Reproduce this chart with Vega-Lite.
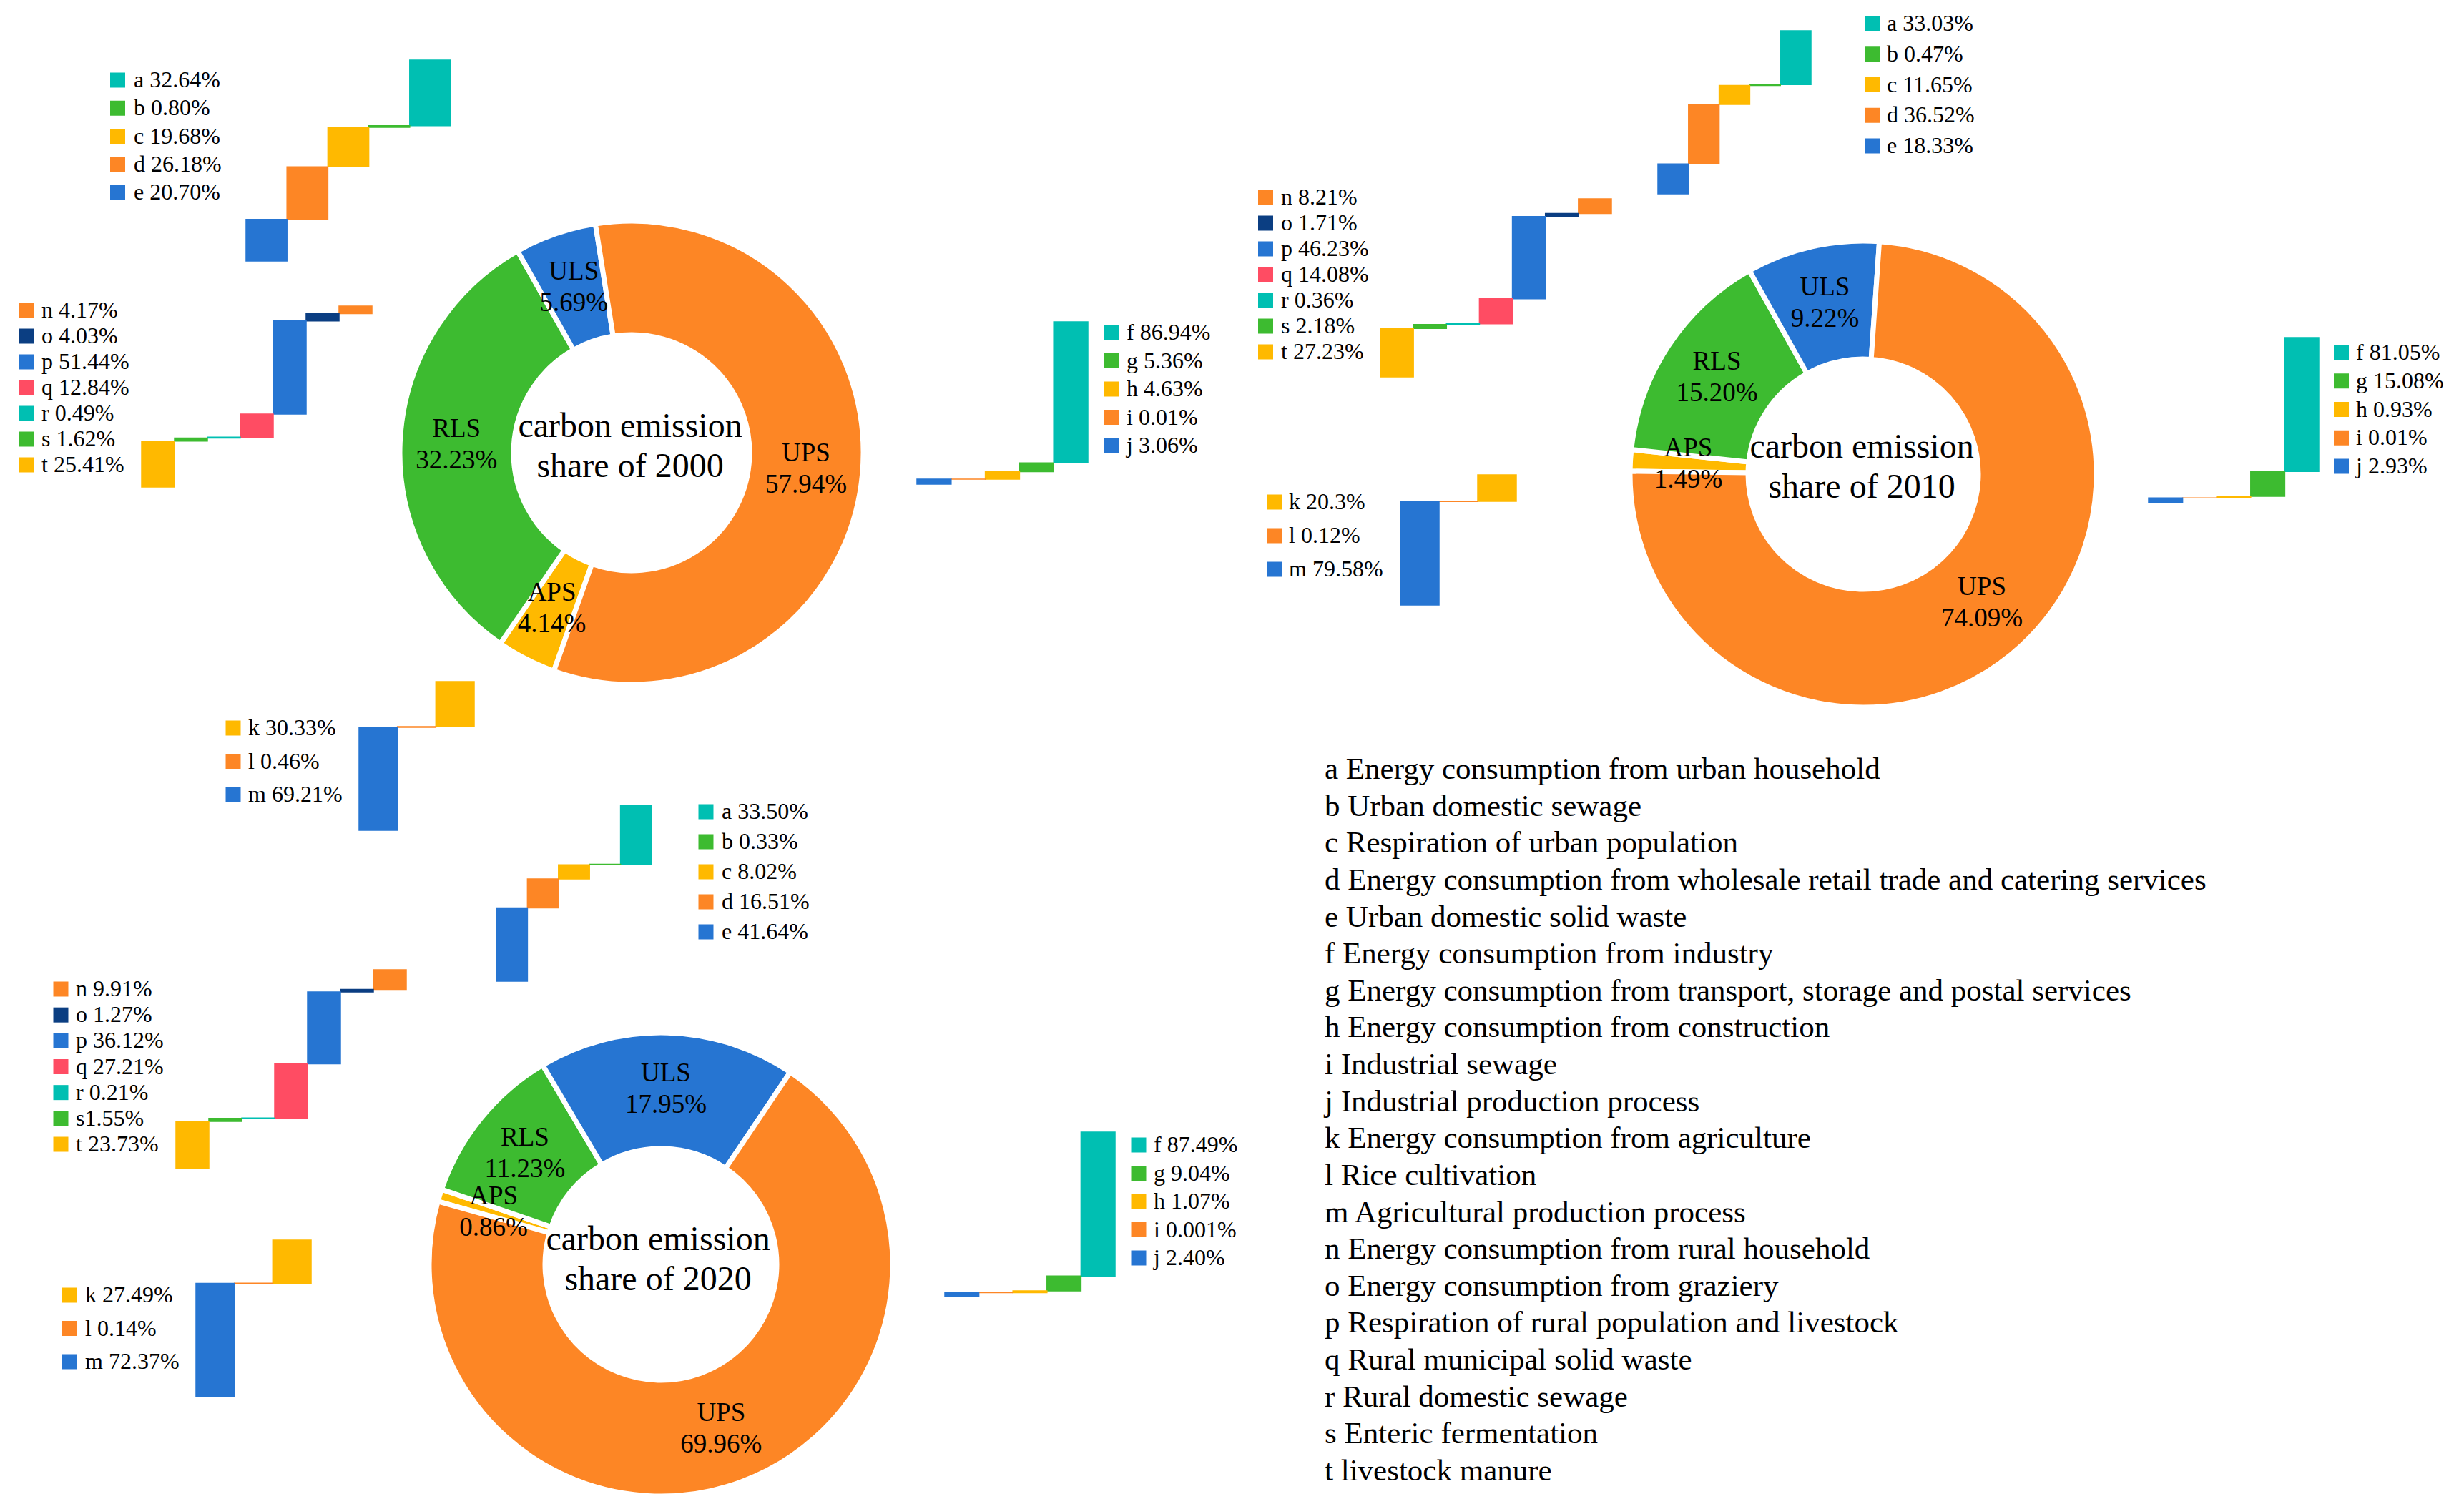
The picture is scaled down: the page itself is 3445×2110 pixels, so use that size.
{
"$schema": "https://vega.github.io/schema/vega-lite/v6.json",
"width": 3445, "height": 2110, "autosize": "none", "padding": 0, "background": "white",
"config": {"view": {"stroke": null}, "font": "Liberation Serif"},
"datasets": {
"slices": [
{"year":2000,"sector":"APS","share":0.0414},{"year":2000,"sector":"RLS","share":0.3223},{"year":2000,"sector":"ULS","share":0.0569},{"year":2000,"sector":"UPS","share":0.5794},
{"year":2010,"sector":"APS","share":0.0149},{"year":2010,"sector":"RLS","share":0.1520},{"year":2010,"sector":"ULS","share":0.0922},{"year":2010,"sector":"UPS","share":0.7409},
{"year":2020,"sector":"APS","share":0.0086},{"year":2020,"sector":"RLS","share":0.1123},{"year":2020,"sector":"ULS","share":0.1795},{"year":2020,"sector":"UPS","share":0.6996}
],
"items": [
{"year":2000,"group":"ULS","letter":"a","share":32.64,"label":"a 32.64%"},
{"year":2000,"group":"ULS","letter":"b","share":0.80,"label":"b 0.80%"},
{"year":2000,"group":"ULS","letter":"c","share":19.68,"label":"c 19.68%"},
{"year":2000,"group":"ULS","letter":"d","share":26.18,"label":"d 26.18%"},
{"year":2000,"group":"ULS","letter":"e","share":20.70,"label":"e 20.70%"},
{"year":2000,"group":"UPS","letter":"f","share":86.94,"label":"f 86.94%"},
{"year":2000,"group":"UPS","letter":"g","share":5.36,"label":"g 5.36%"},
{"year":2000,"group":"UPS","letter":"h","share":4.63,"label":"h 4.63%"},
{"year":2000,"group":"UPS","letter":"i","share":0.01,"label":"i 0.01%"},
{"year":2000,"group":"UPS","letter":"j","share":3.06,"label":"j 3.06%"},
{"year":2000,"group":"APS","letter":"k","share":30.33,"label":"k 30.33%"},
{"year":2000,"group":"APS","letter":"l","share":0.46,"label":"l 0.46%"},
{"year":2000,"group":"APS","letter":"m","share":69.21,"label":"m 69.21%"},
{"year":2000,"group":"RLS","letter":"n","share":4.17,"label":"n 4.17%"},
{"year":2000,"group":"RLS","letter":"o","share":4.03,"label":"o 4.03%"},
{"year":2000,"group":"RLS","letter":"p","share":51.44,"label":"p 51.44%"},
{"year":2000,"group":"RLS","letter":"q","share":12.84,"label":"q 12.84%"},
{"year":2000,"group":"RLS","letter":"r","share":0.49,"label":"r 0.49%"},
{"year":2000,"group":"RLS","letter":"s","share":1.62,"label":"s 1.62%"},
{"year":2000,"group":"RLS","letter":"t","share":25.41,"label":"t 25.41%"},
{"year":2010,"group":"ULS","letter":"a","share":33.03,"label":"a 33.03%"},
{"year":2010,"group":"ULS","letter":"b","share":0.47,"label":"b 0.47%"},
{"year":2010,"group":"ULS","letter":"c","share":11.65,"label":"c 11.65%"},
{"year":2010,"group":"ULS","letter":"d","share":36.52,"label":"d 36.52%"},
{"year":2010,"group":"ULS","letter":"e","share":18.33,"label":"e 18.33%"},
{"year":2010,"group":"UPS","letter":"f","share":81.05,"label":"f 81.05%"},
{"year":2010,"group":"UPS","letter":"g","share":15.08,"label":"g 15.08%"},
{"year":2010,"group":"UPS","letter":"h","share":0.93,"label":"h 0.93%"},
{"year":2010,"group":"UPS","letter":"i","share":0.01,"label":"i 0.01%"},
{"year":2010,"group":"UPS","letter":"j","share":2.93,"label":"j 2.93%"},
{"year":2010,"group":"APS","letter":"k","share":20.3,"label":"k 20.3%"},
{"year":2010,"group":"APS","letter":"l","share":0.12,"label":"l 0.12%"},
{"year":2010,"group":"APS","letter":"m","share":79.58,"label":"m 79.58%"},
{"year":2010,"group":"RLS","letter":"n","share":8.21,"label":"n 8.21%"},
{"year":2010,"group":"RLS","letter":"o","share":1.71,"label":"o 1.71%"},
{"year":2010,"group":"RLS","letter":"p","share":46.23,"label":"p 46.23%"},
{"year":2010,"group":"RLS","letter":"q","share":14.08,"label":"q 14.08%"},
{"year":2010,"group":"RLS","letter":"r","share":0.36,"label":"r 0.36%"},
{"year":2010,"group":"RLS","letter":"s","share":2.18,"label":"s 2.18%"},
{"year":2010,"group":"RLS","letter":"t","share":27.23,"label":"t 27.23%"},
{"year":2020,"group":"ULS","letter":"a","share":33.50,"label":"a 33.50%"},
{"year":2020,"group":"ULS","letter":"b","share":0.33,"label":"b 0.33%"},
{"year":2020,"group":"ULS","letter":"c","share":8.02,"label":"c 8.02%"},
{"year":2020,"group":"ULS","letter":"d","share":16.51,"label":"d 16.51%"},
{"year":2020,"group":"ULS","letter":"e","share":41.64,"label":"e 41.64%"},
{"year":2020,"group":"UPS","letter":"f","share":87.49,"label":"f 87.49%"},
{"year":2020,"group":"UPS","letter":"g","share":9.04,"label":"g 9.04%"},
{"year":2020,"group":"UPS","letter":"h","share":1.07,"label":"h 1.07%"},
{"year":2020,"group":"UPS","letter":"i","share":0.001,"label":"i 0.001%"},
{"year":2020,"group":"UPS","letter":"j","share":2.40,"label":"j 2.40%"},
{"year":2020,"group":"APS","letter":"k","share":27.49,"label":"k 27.49%"},
{"year":2020,"group":"APS","letter":"l","share":0.14,"label":"l 0.14%"},
{"year":2020,"group":"APS","letter":"m","share":72.37,"label":"m 72.37%"},
{"year":2020,"group":"RLS","letter":"n","share":9.91,"label":"n 9.91%"},
{"year":2020,"group":"RLS","letter":"o","share":1.27,"label":"o 1.27%"},
{"year":2020,"group":"RLS","letter":"p","share":36.12,"label":"p 36.12%"},
{"year":2020,"group":"RLS","letter":"q","share":27.21,"label":"q 27.21%"},
{"year":2020,"group":"RLS","letter":"r","share":0.21,"label":"r 0.21%"},
{"year":2020,"group":"RLS","letter":"s","share":1.55,"label":"s1.55%"},
{"year":2020,"group":"RLS","letter":"t","share":23.73,"label":"t 23.73%"}
],
"descriptions": [
{"letter":"a","text":"a Energy consumption from urban household"},
{"letter":"b","text":"b Urban domestic sewage"},
{"letter":"c","text":"c Respiration of urban population"},
{"letter":"d","text":"d Energy consumption from wholesale retail trade and catering services"},
{"letter":"e","text":"e Urban domestic solid waste"},
{"letter":"f","text":"f Energy consumption from industry"},
{"letter":"g","text":"g Energy consumption from transport, storage and postal services"},
{"letter":"h","text":"h Energy consumption from construction"},
{"letter":"i","text":"i Industrial sewage"},
{"letter":"j","text":"j Industrial production process"},
{"letter":"k","text":"k Energy consumption from agriculture"},
{"letter":"l","text":"l Rice cultivation"},
{"letter":"m","text":"m Agricultural production process"},
{"letter":"n","text":"n Energy consumption from rural household"},
{"letter":"o","text":"o Energy consumption from graziery"},
{"letter":"p","text":"p Respiration of rural population and livestock"},
{"letter":"q","text":"q Rural municipal solid waste"},
{"letter":"r","text":"r Rural domestic sewage"},
{"letter":"s","text":"s Enteric fermentation"},
{"letter":"t","text":"t livestock manure"}
]
},
"layer": [
{"data":{"name":"slices"},"transform":[{"filter":"datum.year == 2000"}],"layer":[
 {"mark":{"type":"arc","x":883,"y":633,"radius":324,"radius2":165,"stroke":"white","strokeWidth":7},"encoding":{"theta":{"field":"share","type":"quantitative","stack":true,"scale":{"range":[3.48368,9.76686]}},"order":{"field":"sector","type":"ordinal","sort":"ascending"},"color":{"field":"sector","type":"nominal","scale":{"domain":["a","b","c","d","e","f","g","h","i","j","k","l","m","n","o","p","q","r","s","t","APS","RLS","ULS","UPS"],"range":["#00BFB2","#3DBB30","#FFB900","#FD8625","#2675D2","#00BFB2","#3DBB30","#FFB900","#FD8625","#2675D2","#FFB900","#FD8625","#2675D2","#FD8625","#0B3E82","#2675D2","#FF4C63","#00BFB2","#3DBB30","#FFB900","#FFB900","#3DBB30","#2675D2","#FD8625"]},"legend":null}}},
 {"mark":{"type":"text","x":883,"y":633,"radius":245,"dy":-22,"fontSize":37,"font":"Liberation Serif","color":"black","align":"center","baseline":"middle"},"encoding":{"theta":{"field":"share","type":"quantitative","stack":true},"order":{"field":"sector","type":"ordinal","sort":"ascending"},"detail":{"field":"sector"},"text":{"field":"sector"}}},
 {"mark":{"type":"text","x":883,"y":633,"radius":245,"dy":22,"fontSize":37,"font":"Liberation Serif","color":"black","align":"center","baseline":"middle"},"encoding":{"theta":{"field":"share","type":"quantitative","stack":true},"order":{"field":"sector","type":"ordinal","sort":"ascending"},"detail":{"field":"sector"},"text":{"field":"share","type":"quantitative","format":".2%"}}},
 {"data":{"values":[{"year":2000}]},"mark":{"type":"text","x":881,"y":597,"text":["carbon emission","share of 2000"],"lineHeight":56,"fontSize":48,"font":"Liberation Serif","color":"black","align":"center","baseline":"middle"},"encoding":{}}
]},
{"data":{"name":"slices"},"transform":[{"filter":"datum.year == 2010"}],"layer":[
 {"mark":{"type":"arc","x":2605,"y":663,"radius":326,"radius2":161,"stroke":"white","strokeWidth":7},"encoding":{"theta":{"field":"share","type":"quantitative","stack":true,"scale":{"range":[4.72461,11.00780]}},"order":{"field":"sector","type":"ordinal","sort":"ascending"},"color":{"field":"sector","type":"nominal","scale":{"domain":["a","b","c","d","e","f","g","h","i","j","k","l","m","n","o","p","q","r","s","t","APS","RLS","ULS","UPS"],"range":["#00BFB2","#3DBB30","#FFB900","#FD8625","#2675D2","#00BFB2","#3DBB30","#FFB900","#FD8625","#2675D2","#FFB900","#FD8625","#2675D2","#FD8625","#0B3E82","#2675D2","#FF4C63","#00BFB2","#3DBB30","#FFB900","#FFB900","#3DBB30","#2675D2","#FD8625"]},"legend":null}}},
 {"mark":{"type":"text","x":2605,"y":663,"radius":245,"dy":-22,"fontSize":37,"font":"Liberation Serif","color":"black","align":"center","baseline":"middle"},"encoding":{"theta":{"field":"share","type":"quantitative","stack":true},"order":{"field":"sector","type":"ordinal","sort":"ascending"},"detail":{"field":"sector"},"text":{"field":"sector"}}},
 {"mark":{"type":"text","x":2605,"y":663,"radius":245,"dy":22,"fontSize":37,"font":"Liberation Serif","color":"black","align":"center","baseline":"middle"},"encoding":{"theta":{"field":"share","type":"quantitative","stack":true},"order":{"field":"sector","type":"ordinal","sort":"ascending"},"detail":{"field":"sector"},"text":{"field":"share","type":"quantitative","format":".2%"}}},
 {"data":{"values":[{"year":2010}]},"mark":{"type":"text","x":2603,"y":626,"text":["carbon emission","share of 2010"],"lineHeight":56,"fontSize":48,"font":"Liberation Serif","color":"black","align":"center","baseline":"middle"},"encoding":{}}
]},
{"data":{"name":"slices"},"transform":[{"filter":"datum.year == 2020"}],"layer":[
 {"mark":{"type":"arc","x":924,"y":1768,"radius":324,"radius2":162,"stroke":"white","strokeWidth":7},"encoding":{"theta":{"field":"share","type":"quantitative","stack":true,"scale":{"range":[4.98810,11.27129]}},"order":{"field":"sector","type":"ordinal","sort":"ascending"},"color":{"field":"sector","type":"nominal","scale":{"domain":["a","b","c","d","e","f","g","h","i","j","k","l","m","n","o","p","q","r","s","t","APS","RLS","ULS","UPS"],"range":["#00BFB2","#3DBB30","#FFB900","#FD8625","#2675D2","#00BFB2","#3DBB30","#FFB900","#FD8625","#2675D2","#FFB900","#FD8625","#2675D2","#FD8625","#0B3E82","#2675D2","#FF4C63","#00BFB2","#3DBB30","#FFB900","#FFB900","#3DBB30","#2675D2","#FD8625"]},"legend":null}}},
 {"mark":{"type":"text","x":924,"y":1768,"radius":245,"dy":-22,"fontSize":37,"font":"Liberation Serif","color":"black","align":"center","baseline":"middle"},"encoding":{"theta":{"field":"share","type":"quantitative","stack":true},"order":{"field":"sector","type":"ordinal","sort":"ascending"},"detail":{"field":"sector"},"text":{"field":"sector"}}},
 {"mark":{"type":"text","x":924,"y":1768,"radius":245,"dy":22,"fontSize":37,"font":"Liberation Serif","color":"black","align":"center","baseline":"middle"},"encoding":{"theta":{"field":"share","type":"quantitative","stack":true},"order":{"field":"sector","type":"ordinal","sort":"ascending"},"detail":{"field":"sector"},"text":{"field":"share","type":"quantitative","format":".2%"}}},
 {"data":{"values":[{"year":2020}]},"mark":{"type":"text","x":920,"y":1734,"text":["carbon emission","share of 2020"],"lineHeight":56,"fontSize":48,"font":"Liberation Serif","color":"black","align":"center","baseline":"middle"},"encoding":{}}
]},
{"data":{"name":"items"},"transform":[{"filter":"datum.year == 2000 && datum.group == 'ULS'"},{"stack":"share","groupby":["year","group"],"sort":[{"field":"letter","order":"descending"}],"as":["lo","hi"]}],"mark":{"type":"bar","strokeWidth":1.5},"encoding":{"x":{"field":"letter","type":"nominal","sort":"descending","axis":null,"scale":{"type":"band","range":[344,630],"paddingInner":0,"paddingOuter":0}},"y":{"field":"lo","type":"quantitative","axis":null,"scale":{"domain":[0,100],"range":[365,84],"nice":false,"zero":false}},"y2":{"field":"hi"},"color":{"field":"letter","type":"nominal","scale":{"domain":["a","b","c","d","e","f","g","h","i","j","k","l","m","n","o","p","q","r","s","t","APS","RLS","ULS","UPS"],"range":["#00BFB2","#3DBB30","#FFB900","#FD8625","#2675D2","#00BFB2","#3DBB30","#FFB900","#FD8625","#2675D2","#FFB900","#FD8625","#2675D2","#FD8625","#0B3E82","#2675D2","#FF4C63","#00BFB2","#3DBB30","#FFB900","#FFB900","#3DBB30","#2675D2","#FD8625"]},"legend":null},"stroke":{"field":"letter","type":"nominal","scale":{"domain":["a","b","c","d","e","f","g","h","i","j","k","l","m","n","o","p","q","r","s","t","APS","RLS","ULS","UPS"],"range":["#00BFB2","#3DBB30","#FFB900","#FD8625","#2675D2","#00BFB2","#3DBB30","#FFB900","#FD8625","#2675D2","#FFB900","#FD8625","#2675D2","#FD8625","#0B3E82","#2675D2","#FF4C63","#00BFB2","#3DBB30","#FFB900","#FFB900","#3DBB30","#2675D2","#FD8625"]},"legend":null}}},
{"data":{"name":"items"},"transform":[{"filter":"datum.year == 2000 && datum.group == 'UPS'"},{"stack":"share","groupby":["year","group"],"sort":[{"field":"letter","order":"descending"}],"as":["lo","hi"]}],"mark":{"type":"bar","strokeWidth":1.5},"encoding":{"x":{"field":"letter","type":"nominal","sort":"descending","axis":null,"scale":{"type":"band","range":[1282,1521],"paddingInner":0,"paddingOuter":0}},"y":{"field":"lo","type":"quantitative","axis":null,"scale":{"domain":[0,100],"range":[677,450],"nice":false,"zero":false}},"y2":{"field":"hi"},"color":{"field":"letter","type":"nominal","scale":{"domain":["a","b","c","d","e","f","g","h","i","j","k","l","m","n","o","p","q","r","s","t","APS","RLS","ULS","UPS"],"range":["#00BFB2","#3DBB30","#FFB900","#FD8625","#2675D2","#00BFB2","#3DBB30","#FFB900","#FD8625","#2675D2","#FFB900","#FD8625","#2675D2","#FD8625","#0B3E82","#2675D2","#FF4C63","#00BFB2","#3DBB30","#FFB900","#FFB900","#3DBB30","#2675D2","#FD8625"]},"legend":null},"stroke":{"field":"letter","type":"nominal","scale":{"domain":["a","b","c","d","e","f","g","h","i","j","k","l","m","n","o","p","q","r","s","t","APS","RLS","ULS","UPS"],"range":["#00BFB2","#3DBB30","#FFB900","#FD8625","#2675D2","#00BFB2","#3DBB30","#FFB900","#FD8625","#2675D2","#FFB900","#FD8625","#2675D2","#FD8625","#0B3E82","#2675D2","#FF4C63","#00BFB2","#3DBB30","#FFB900","#FFB900","#3DBB30","#2675D2","#FD8625"]},"legend":null}}},
{"data":{"name":"items"},"transform":[{"filter":"datum.year == 2000 && datum.group == 'APS'"},{"stack":"share","groupby":["year","group"],"sort":[{"field":"letter","order":"descending"}],"as":["lo","hi"]}],"mark":{"type":"bar","strokeWidth":1.5},"encoding":{"x":{"field":"letter","type":"nominal","sort":"descending","axis":null,"scale":{"type":"band","range":[502,663],"paddingInner":0,"paddingOuter":0}},"y":{"field":"lo","type":"quantitative","axis":null,"scale":{"domain":[0,100],"range":[1161,953],"nice":false,"zero":false}},"y2":{"field":"hi"},"color":{"field":"letter","type":"nominal","scale":{"domain":["a","b","c","d","e","f","g","h","i","j","k","l","m","n","o","p","q","r","s","t","APS","RLS","ULS","UPS"],"range":["#00BFB2","#3DBB30","#FFB900","#FD8625","#2675D2","#00BFB2","#3DBB30","#FFB900","#FD8625","#2675D2","#FFB900","#FD8625","#2675D2","#FD8625","#0B3E82","#2675D2","#FF4C63","#00BFB2","#3DBB30","#FFB900","#FFB900","#3DBB30","#2675D2","#FD8625"]},"legend":null},"stroke":{"field":"letter","type":"nominal","scale":{"domain":["a","b","c","d","e","f","g","h","i","j","k","l","m","n","o","p","q","r","s","t","APS","RLS","ULS","UPS"],"range":["#00BFB2","#3DBB30","#FFB900","#FD8625","#2675D2","#00BFB2","#3DBB30","#FFB900","#FD8625","#2675D2","#FFB900","#FD8625","#2675D2","#FD8625","#0B3E82","#2675D2","#FF4C63","#00BFB2","#3DBB30","#FFB900","#FFB900","#3DBB30","#2675D2","#FD8625"]},"legend":null}}},
{"data":{"name":"items"},"transform":[{"filter":"datum.year == 2000 && datum.group == 'RLS'"},{"stack":"share","groupby":["year","group"],"sort":[{"field":"letter","order":"descending"}],"as":["lo","hi"]}],"mark":{"type":"bar","strokeWidth":1.5},"encoding":{"x":{"field":"letter","type":"nominal","sort":"descending","axis":null,"scale":{"type":"band","range":[198,520],"paddingInner":0,"paddingOuter":0}},"y":{"field":"lo","type":"quantitative","axis":null,"scale":{"domain":[0,100],"range":[681,428],"nice":false,"zero":false}},"y2":{"field":"hi"},"color":{"field":"letter","type":"nominal","scale":{"domain":["a","b","c","d","e","f","g","h","i","j","k","l","m","n","o","p","q","r","s","t","APS","RLS","ULS","UPS"],"range":["#00BFB2","#3DBB30","#FFB900","#FD8625","#2675D2","#00BFB2","#3DBB30","#FFB900","#FD8625","#2675D2","#FFB900","#FD8625","#2675D2","#FD8625","#0B3E82","#2675D2","#FF4C63","#00BFB2","#3DBB30","#FFB900","#FFB900","#3DBB30","#2675D2","#FD8625"]},"legend":null},"stroke":{"field":"letter","type":"nominal","scale":{"domain":["a","b","c","d","e","f","g","h","i","j","k","l","m","n","o","p","q","r","s","t","APS","RLS","ULS","UPS"],"range":["#00BFB2","#3DBB30","#FFB900","#FD8625","#2675D2","#00BFB2","#3DBB30","#FFB900","#FD8625","#2675D2","#FFB900","#FD8625","#2675D2","#FD8625","#0B3E82","#2675D2","#FF4C63","#00BFB2","#3DBB30","#FFB900","#FFB900","#3DBB30","#2675D2","#FD8625"]},"legend":null}}},
{"data":{"name":"items"},"transform":[{"filter":"datum.year == 2010 && datum.group == 'ULS'"},{"stack":"share","groupby":["year","group"],"sort":[{"field":"letter","order":"descending"}],"as":["lo","hi"]}],"mark":{"type":"bar","strokeWidth":1.5},"encoding":{"x":{"field":"letter","type":"nominal","sort":"descending","axis":null,"scale":{"type":"band","range":[2318,2532],"paddingInner":0,"paddingOuter":0}},"y":{"field":"lo","type":"quantitative","axis":null,"scale":{"domain":[0,100],"range":[271,43],"nice":false,"zero":false}},"y2":{"field":"hi"},"color":{"field":"letter","type":"nominal","scale":{"domain":["a","b","c","d","e","f","g","h","i","j","k","l","m","n","o","p","q","r","s","t","APS","RLS","ULS","UPS"],"range":["#00BFB2","#3DBB30","#FFB900","#FD8625","#2675D2","#00BFB2","#3DBB30","#FFB900","#FD8625","#2675D2","#FFB900","#FD8625","#2675D2","#FD8625","#0B3E82","#2675D2","#FF4C63","#00BFB2","#3DBB30","#FFB900","#FFB900","#3DBB30","#2675D2","#FD8625"]},"legend":null},"stroke":{"field":"letter","type":"nominal","scale":{"domain":["a","b","c","d","e","f","g","h","i","j","k","l","m","n","o","p","q","r","s","t","APS","RLS","ULS","UPS"],"range":["#00BFB2","#3DBB30","#FFB900","#FD8625","#2675D2","#00BFB2","#3DBB30","#FFB900","#FD8625","#2675D2","#FFB900","#FD8625","#2675D2","#FD8625","#0B3E82","#2675D2","#FF4C63","#00BFB2","#3DBB30","#FFB900","#FFB900","#3DBB30","#2675D2","#FD8625"]},"legend":null}}},
{"data":{"name":"items"},"transform":[{"filter":"datum.year == 2010 && datum.group == 'UPS'"},{"stack":"share","groupby":["year","group"],"sort":[{"field":"letter","order":"descending"}],"as":["lo","hi"]}],"mark":{"type":"bar","strokeWidth":1.5},"encoding":{"x":{"field":"letter","type":"nominal","sort":"descending","axis":null,"scale":{"type":"band","range":[3004,3242],"paddingInner":0,"paddingOuter":0}},"y":{"field":"lo","type":"quantitative","axis":null,"scale":{"domain":[0,100],"range":[703,472],"nice":false,"zero":false}},"y2":{"field":"hi"},"color":{"field":"letter","type":"nominal","scale":{"domain":["a","b","c","d","e","f","g","h","i","j","k","l","m","n","o","p","q","r","s","t","APS","RLS","ULS","UPS"],"range":["#00BFB2","#3DBB30","#FFB900","#FD8625","#2675D2","#00BFB2","#3DBB30","#FFB900","#FD8625","#2675D2","#FFB900","#FD8625","#2675D2","#FD8625","#0B3E82","#2675D2","#FF4C63","#00BFB2","#3DBB30","#FFB900","#FFB900","#3DBB30","#2675D2","#FD8625"]},"legend":null},"stroke":{"field":"letter","type":"nominal","scale":{"domain":["a","b","c","d","e","f","g","h","i","j","k","l","m","n","o","p","q","r","s","t","APS","RLS","ULS","UPS"],"range":["#00BFB2","#3DBB30","#FFB900","#FD8625","#2675D2","#00BFB2","#3DBB30","#FFB900","#FD8625","#2675D2","#FFB900","#FD8625","#2675D2","#FD8625","#0B3E82","#2675D2","#FF4C63","#00BFB2","#3DBB30","#FFB900","#FFB900","#3DBB30","#2675D2","#FD8625"]},"legend":null}}},
{"data":{"name":"items"},"transform":[{"filter":"datum.year == 2010 && datum.group == 'APS'"},{"stack":"share","groupby":["year","group"],"sort":[{"field":"letter","order":"descending"}],"as":["lo","hi"]}],"mark":{"type":"bar","strokeWidth":1.5},"encoding":{"x":{"field":"letter","type":"nominal","sort":"descending","axis":null,"scale":{"type":"band","range":[1958,2120],"paddingInner":0,"paddingOuter":0}},"y":{"field":"lo","type":"quantitative","axis":null,"scale":{"domain":[0,100],"range":[846,664],"nice":false,"zero":false}},"y2":{"field":"hi"},"color":{"field":"letter","type":"nominal","scale":{"domain":["a","b","c","d","e","f","g","h","i","j","k","l","m","n","o","p","q","r","s","t","APS","RLS","ULS","UPS"],"range":["#00BFB2","#3DBB30","#FFB900","#FD8625","#2675D2","#00BFB2","#3DBB30","#FFB900","#FD8625","#2675D2","#FFB900","#FD8625","#2675D2","#FD8625","#0B3E82","#2675D2","#FF4C63","#00BFB2","#3DBB30","#FFB900","#FFB900","#3DBB30","#2675D2","#FD8625"]},"legend":null},"stroke":{"field":"letter","type":"nominal","scale":{"domain":["a","b","c","d","e","f","g","h","i","j","k","l","m","n","o","p","q","r","s","t","APS","RLS","ULS","UPS"],"range":["#00BFB2","#3DBB30","#FFB900","#FD8625","#2675D2","#00BFB2","#3DBB30","#FFB900","#FD8625","#2675D2","#FFB900","#FD8625","#2675D2","#FD8625","#0B3E82","#2675D2","#FF4C63","#00BFB2","#3DBB30","#FFB900","#FFB900","#3DBB30","#2675D2","#FD8625"]},"legend":null}}},
{"data":{"name":"items"},"transform":[{"filter":"datum.year == 2010 && datum.group == 'RLS'"},{"stack":"share","groupby":["year","group"],"sort":[{"field":"letter","order":"descending"}],"as":["lo","hi"]}],"mark":{"type":"bar","strokeWidth":1.5},"encoding":{"x":{"field":"letter","type":"nominal","sort":"descending","axis":null,"scale":{"type":"band","range":[1930,2253],"paddingInner":0,"paddingOuter":0}},"y":{"field":"lo","type":"quantitative","axis":null,"scale":{"domain":[0,100],"range":[527,278],"nice":false,"zero":false}},"y2":{"field":"hi"},"color":{"field":"letter","type":"nominal","scale":{"domain":["a","b","c","d","e","f","g","h","i","j","k","l","m","n","o","p","q","r","s","t","APS","RLS","ULS","UPS"],"range":["#00BFB2","#3DBB30","#FFB900","#FD8625","#2675D2","#00BFB2","#3DBB30","#FFB900","#FD8625","#2675D2","#FFB900","#FD8625","#2675D2","#FD8625","#0B3E82","#2675D2","#FF4C63","#00BFB2","#3DBB30","#FFB900","#FFB900","#3DBB30","#2675D2","#FD8625"]},"legend":null},"stroke":{"field":"letter","type":"nominal","scale":{"domain":["a","b","c","d","e","f","g","h","i","j","k","l","m","n","o","p","q","r","s","t","APS","RLS","ULS","UPS"],"range":["#00BFB2","#3DBB30","#FFB900","#FD8625","#2675D2","#00BFB2","#3DBB30","#FFB900","#FD8625","#2675D2","#FFB900","#FD8625","#2675D2","#FD8625","#0B3E82","#2675D2","#FF4C63","#00BFB2","#3DBB30","#FFB900","#FFB900","#3DBB30","#2675D2","#FD8625"]},"legend":null}}},
{"data":{"name":"items"},"transform":[{"filter":"datum.year == 2020 && datum.group == 'ULS'"},{"stack":"share","groupby":["year","group"],"sort":[{"field":"letter","order":"descending"}],"as":["lo","hi"]}],"mark":{"type":"bar","strokeWidth":1.5},"encoding":{"x":{"field":"letter","type":"nominal","sort":"descending","axis":null,"scale":{"type":"band","range":[694,911],"paddingInner":0,"paddingOuter":0}},"y":{"field":"lo","type":"quantitative","axis":null,"scale":{"domain":[0,100],"range":[1372,1126],"nice":false,"zero":false}},"y2":{"field":"hi"},"color":{"field":"letter","type":"nominal","scale":{"domain":["a","b","c","d","e","f","g","h","i","j","k","l","m","n","o","p","q","r","s","t","APS","RLS","ULS","UPS"],"range":["#00BFB2","#3DBB30","#FFB900","#FD8625","#2675D2","#00BFB2","#3DBB30","#FFB900","#FD8625","#2675D2","#FFB900","#FD8625","#2675D2","#FD8625","#0B3E82","#2675D2","#FF4C63","#00BFB2","#3DBB30","#FFB900","#FFB900","#3DBB30","#2675D2","#FD8625"]},"legend":null},"stroke":{"field":"letter","type":"nominal","scale":{"domain":["a","b","c","d","e","f","g","h","i","j","k","l","m","n","o","p","q","r","s","t","APS","RLS","ULS","UPS"],"range":["#00BFB2","#3DBB30","#FFB900","#FD8625","#2675D2","#00BFB2","#3DBB30","#FFB900","#FD8625","#2675D2","#FFB900","#FD8625","#2675D2","#FD8625","#0B3E82","#2675D2","#FF4C63","#00BFB2","#3DBB30","#FFB900","#FFB900","#3DBB30","#2675D2","#FD8625"]},"legend":null}}},
{"data":{"name":"items"},"transform":[{"filter":"datum.year == 2020 && datum.group == 'UPS'"},{"stack":"share","groupby":["year","group"],"sort":[{"field":"letter","order":"descending"}],"as":["lo","hi"]}],"mark":{"type":"bar","strokeWidth":1.5},"encoding":{"x":{"field":"letter","type":"nominal","sort":"descending","axis":null,"scale":{"type":"band","range":[1321,1559],"paddingInner":0,"paddingOuter":0}},"y":{"field":"lo","type":"quantitative","axis":null,"scale":{"domain":[0,100],"range":[1813,1583],"nice":false,"zero":false}},"y2":{"field":"hi"},"color":{"field":"letter","type":"nominal","scale":{"domain":["a","b","c","d","e","f","g","h","i","j","k","l","m","n","o","p","q","r","s","t","APS","RLS","ULS","UPS"],"range":["#00BFB2","#3DBB30","#FFB900","#FD8625","#2675D2","#00BFB2","#3DBB30","#FFB900","#FD8625","#2675D2","#FFB900","#FD8625","#2675D2","#FD8625","#0B3E82","#2675D2","#FF4C63","#00BFB2","#3DBB30","#FFB900","#FFB900","#3DBB30","#2675D2","#FD8625"]},"legend":null},"stroke":{"field":"letter","type":"nominal","scale":{"domain":["a","b","c","d","e","f","g","h","i","j","k","l","m","n","o","p","q","r","s","t","APS","RLS","ULS","UPS"],"range":["#00BFB2","#3DBB30","#FFB900","#FD8625","#2675D2","#00BFB2","#3DBB30","#FFB900","#FD8625","#2675D2","#FFB900","#FD8625","#2675D2","#FD8625","#0B3E82","#2675D2","#FF4C63","#00BFB2","#3DBB30","#FFB900","#FFB900","#3DBB30","#2675D2","#FD8625"]},"legend":null}}},
{"data":{"name":"items"},"transform":[{"filter":"datum.year == 2020 && datum.group == 'APS'"},{"stack":"share","groupby":["year","group"],"sort":[{"field":"letter","order":"descending"}],"as":["lo","hi"]}],"mark":{"type":"bar","strokeWidth":1.5},"encoding":{"x":{"field":"letter","type":"nominal","sort":"descending","axis":null,"scale":{"type":"band","range":[274,435],"paddingInner":0,"paddingOuter":0}},"y":{"field":"lo","type":"quantitative","axis":null,"scale":{"domain":[0,100],"range":[1953,1734],"nice":false,"zero":false}},"y2":{"field":"hi"},"color":{"field":"letter","type":"nominal","scale":{"domain":["a","b","c","d","e","f","g","h","i","j","k","l","m","n","o","p","q","r","s","t","APS","RLS","ULS","UPS"],"range":["#00BFB2","#3DBB30","#FFB900","#FD8625","#2675D2","#00BFB2","#3DBB30","#FFB900","#FD8625","#2675D2","#FFB900","#FD8625","#2675D2","#FD8625","#0B3E82","#2675D2","#FF4C63","#00BFB2","#3DBB30","#FFB900","#FFB900","#3DBB30","#2675D2","#FD8625"]},"legend":null},"stroke":{"field":"letter","type":"nominal","scale":{"domain":["a","b","c","d","e","f","g","h","i","j","k","l","m","n","o","p","q","r","s","t","APS","RLS","ULS","UPS"],"range":["#00BFB2","#3DBB30","#FFB900","#FD8625","#2675D2","#00BFB2","#3DBB30","#FFB900","#FD8625","#2675D2","#FFB900","#FD8625","#2675D2","#FD8625","#0B3E82","#2675D2","#FF4C63","#00BFB2","#3DBB30","#FFB900","#FFB900","#3DBB30","#2675D2","#FD8625"]},"legend":null}}},
{"data":{"name":"items"},"transform":[{"filter":"datum.year == 2020 && datum.group == 'RLS'"},{"stack":"share","groupby":["year","group"],"sort":[{"field":"letter","order":"descending"}],"as":["lo","hi"]}],"mark":{"type":"bar","strokeWidth":1.5},"encoding":{"x":{"field":"letter","type":"nominal","sort":"descending","axis":null,"scale":{"type":"band","range":[246,568],"paddingInner":0,"paddingOuter":0}},"y":{"field":"lo","type":"quantitative","axis":null,"scale":{"domain":[0,100],"range":[1634,1356],"nice":false,"zero":false}},"y2":{"field":"hi"},"color":{"field":"letter","type":"nominal","scale":{"domain":["a","b","c","d","e","f","g","h","i","j","k","l","m","n","o","p","q","r","s","t","APS","RLS","ULS","UPS"],"range":["#00BFB2","#3DBB30","#FFB900","#FD8625","#2675D2","#00BFB2","#3DBB30","#FFB900","#FD8625","#2675D2","#FFB900","#FD8625","#2675D2","#FD8625","#0B3E82","#2675D2","#FF4C63","#00BFB2","#3DBB30","#FFB900","#FFB900","#3DBB30","#2675D2","#FD8625"]},"legend":null},"stroke":{"field":"letter","type":"nominal","scale":{"domain":["a","b","c","d","e","f","g","h","i","j","k","l","m","n","o","p","q","r","s","t","APS","RLS","ULS","UPS"],"range":["#00BFB2","#3DBB30","#FFB900","#FD8625","#2675D2","#00BFB2","#3DBB30","#FFB900","#FD8625","#2675D2","#FFB900","#FD8625","#2675D2","#FD8625","#0B3E82","#2675D2","#FF4C63","#00BFB2","#3DBB30","#FFB900","#FFB900","#3DBB30","#2675D2","#FD8625"]},"legend":null}}},
{"data":{"name":"items"},"transform":[{"filter":"datum.year == 2000 && datum.group == 'ULS'"}],"encoding":{"y":{"field":"letter","type":"nominal","axis":null,"scale":{"type":"point","range":[112,269],"padding":0}}},"layer":[{"mark":{"type":"square","size":441,"opacity":1},"encoding":{"x":{"value":164.5},"color":{"field":"letter","type":"nominal","scale":{"domain":["a","b","c","d","e","f","g","h","i","j","k","l","m","n","o","p","q","r","s","t","APS","RLS","ULS","UPS"],"range":["#00BFB2","#3DBB30","#FFB900","#FD8625","#2675D2","#00BFB2","#3DBB30","#FFB900","#FD8625","#2675D2","#FFB900","#FD8625","#2675D2","#FD8625","#0B3E82","#2675D2","#FF4C63","#00BFB2","#3DBB30","#FFB900","#FFB900","#3DBB30","#2675D2","#FD8625"]},"legend":null}}},{"mark":{"type":"text","align":"left","baseline":"middle","fontSize":32,"font":"Liberation Serif","color":"black"},"encoding":{"x":{"value":187},"text":{"field":"label"}}}]},
{"data":{"name":"items"},"transform":[{"filter":"datum.year == 2000 && datum.group == 'UPS'"}],"encoding":{"y":{"field":"letter","type":"nominal","axis":null,"scale":{"type":"point","range":[465,623],"padding":0}}},"layer":[{"mark":{"type":"square","size":441,"opacity":1},"encoding":{"x":{"value":1553.5},"color":{"field":"letter","type":"nominal","scale":{"domain":["a","b","c","d","e","f","g","h","i","j","k","l","m","n","o","p","q","r","s","t","APS","RLS","ULS","UPS"],"range":["#00BFB2","#3DBB30","#FFB900","#FD8625","#2675D2","#00BFB2","#3DBB30","#FFB900","#FD8625","#2675D2","#FFB900","#FD8625","#2675D2","#FD8625","#0B3E82","#2675D2","#FF4C63","#00BFB2","#3DBB30","#FFB900","#FFB900","#3DBB30","#2675D2","#FD8625"]},"legend":null}}},{"mark":{"type":"text","align":"left","baseline":"middle","fontSize":32,"font":"Liberation Serif","color":"black"},"encoding":{"x":{"value":1575},"text":{"field":"label"}}}]},
{"data":{"name":"items"},"transform":[{"filter":"datum.year == 2000 && datum.group == 'APS'"}],"encoding":{"y":{"field":"letter","type":"nominal","axis":null,"scale":{"type":"point","range":[1018,1111],"padding":0}}},"layer":[{"mark":{"type":"square","size":441,"opacity":1},"encoding":{"x":{"value":326},"color":{"field":"letter","type":"nominal","scale":{"domain":["a","b","c","d","e","f","g","h","i","j","k","l","m","n","o","p","q","r","s","t","APS","RLS","ULS","UPS"],"range":["#00BFB2","#3DBB30","#FFB900","#FD8625","#2675D2","#00BFB2","#3DBB30","#FFB900","#FD8625","#2675D2","#FFB900","#FD8625","#2675D2","#FD8625","#0B3E82","#2675D2","#FF4C63","#00BFB2","#3DBB30","#FFB900","#FFB900","#3DBB30","#2675D2","#FD8625"]},"legend":null}}},{"mark":{"type":"text","align":"left","baseline":"middle","fontSize":32,"font":"Liberation Serif","color":"black"},"encoding":{"x":{"value":347},"text":{"field":"label"}}}]},
{"data":{"name":"items"},"transform":[{"filter":"datum.year == 2000 && datum.group == 'RLS'"}],"encoding":{"y":{"field":"letter","type":"nominal","axis":null,"scale":{"type":"point","range":[434,650],"padding":0}}},"layer":[{"mark":{"type":"square","size":441,"opacity":1},"encoding":{"x":{"value":37.5},"color":{"field":"letter","type":"nominal","scale":{"domain":["a","b","c","d","e","f","g","h","i","j","k","l","m","n","o","p","q","r","s","t","APS","RLS","ULS","UPS"],"range":["#00BFB2","#3DBB30","#FFB900","#FD8625","#2675D2","#00BFB2","#3DBB30","#FFB900","#FD8625","#2675D2","#FFB900","#FD8625","#2675D2","#FD8625","#0B3E82","#2675D2","#FF4C63","#00BFB2","#3DBB30","#FFB900","#FFB900","#3DBB30","#2675D2","#FD8625"]},"legend":null}}},{"mark":{"type":"text","align":"left","baseline":"middle","fontSize":32,"font":"Liberation Serif","color":"black"},"encoding":{"x":{"value":58},"text":{"field":"label"}}}]},
{"data":{"name":"items"},"transform":[{"filter":"datum.year == 2010 && datum.group == 'ULS'"}],"encoding":{"y":{"field":"letter","type":"nominal","axis":null,"scale":{"type":"point","range":[33,204],"padding":0}}},"layer":[{"mark":{"type":"square","size":441,"opacity":1},"encoding":{"x":{"value":2618},"color":{"field":"letter","type":"nominal","scale":{"domain":["a","b","c","d","e","f","g","h","i","j","k","l","m","n","o","p","q","r","s","t","APS","RLS","ULS","UPS"],"range":["#00BFB2","#3DBB30","#FFB900","#FD8625","#2675D2","#00BFB2","#3DBB30","#FFB900","#FD8625","#2675D2","#FFB900","#FD8625","#2675D2","#FD8625","#0B3E82","#2675D2","#FF4C63","#00BFB2","#3DBB30","#FFB900","#FFB900","#3DBB30","#2675D2","#FD8625"]},"legend":null}}},{"mark":{"type":"text","align":"left","baseline":"middle","fontSize":32,"font":"Liberation Serif","color":"black"},"encoding":{"x":{"value":2638},"text":{"field":"label"}}}]},
{"data":{"name":"items"},"transform":[{"filter":"datum.year == 2010 && datum.group == 'UPS'"}],"encoding":{"y":{"field":"letter","type":"nominal","axis":null,"scale":{"type":"point","range":[493,652],"padding":0}}},"layer":[{"mark":{"type":"square","size":441,"opacity":1},"encoding":{"x":{"value":3273.5},"color":{"field":"letter","type":"nominal","scale":{"domain":["a","b","c","d","e","f","g","h","i","j","k","l","m","n","o","p","q","r","s","t","APS","RLS","ULS","UPS"],"range":["#00BFB2","#3DBB30","#FFB900","#FD8625","#2675D2","#00BFB2","#3DBB30","#FFB900","#FD8625","#2675D2","#FFB900","#FD8625","#2675D2","#FD8625","#0B3E82","#2675D2","#FF4C63","#00BFB2","#3DBB30","#FFB900","#FFB900","#3DBB30","#2675D2","#FD8625"]},"legend":null}}},{"mark":{"type":"text","align":"left","baseline":"middle","fontSize":32,"font":"Liberation Serif","color":"black"},"encoding":{"x":{"value":3294},"text":{"field":"label"}}}]},
{"data":{"name":"items"},"transform":[{"filter":"datum.year == 2010 && datum.group == 'APS'"}],"encoding":{"y":{"field":"letter","type":"nominal","axis":null,"scale":{"type":"point","range":[702,796],"padding":0}}},"layer":[{"mark":{"type":"square","size":441,"opacity":1},"encoding":{"x":{"value":1781.5},"color":{"field":"letter","type":"nominal","scale":{"domain":["a","b","c","d","e","f","g","h","i","j","k","l","m","n","o","p","q","r","s","t","APS","RLS","ULS","UPS"],"range":["#00BFB2","#3DBB30","#FFB900","#FD8625","#2675D2","#00BFB2","#3DBB30","#FFB900","#FD8625","#2675D2","#FFB900","#FD8625","#2675D2","#FD8625","#0B3E82","#2675D2","#FF4C63","#00BFB2","#3DBB30","#FFB900","#FFB900","#3DBB30","#2675D2","#FD8625"]},"legend":null}}},{"mark":{"type":"text","align":"left","baseline":"middle","fontSize":32,"font":"Liberation Serif","color":"black"},"encoding":{"x":{"value":1802},"text":{"field":"label"}}}]},
{"data":{"name":"items"},"transform":[{"filter":"datum.year == 2010 && datum.group == 'RLS'"}],"encoding":{"y":{"field":"letter","type":"nominal","axis":null,"scale":{"type":"point","range":[276,492],"padding":0}}},"layer":[{"mark":{"type":"square","size":441,"opacity":1},"encoding":{"x":{"value":1769.5},"color":{"field":"letter","type":"nominal","scale":{"domain":["a","b","c","d","e","f","g","h","i","j","k","l","m","n","o","p","q","r","s","t","APS","RLS","ULS","UPS"],"range":["#00BFB2","#3DBB30","#FFB900","#FD8625","#2675D2","#00BFB2","#3DBB30","#FFB900","#FD8625","#2675D2","#FFB900","#FD8625","#2675D2","#FD8625","#0B3E82","#2675D2","#FF4C63","#00BFB2","#3DBB30","#FFB900","#FFB900","#3DBB30","#2675D2","#FD8625"]},"legend":null}}},{"mark":{"type":"text","align":"left","baseline":"middle","fontSize":32,"font":"Liberation Serif","color":"black"},"encoding":{"x":{"value":1791},"text":{"field":"label"}}}]},
{"data":{"name":"items"},"transform":[{"filter":"datum.year == 2020 && datum.group == 'ULS'"}],"encoding":{"y":{"field":"letter","type":"nominal","axis":null,"scale":{"type":"point","range":[1135,1303],"padding":0}}},"layer":[{"mark":{"type":"square","size":441,"opacity":1},"encoding":{"x":{"value":987},"color":{"field":"letter","type":"nominal","scale":{"domain":["a","b","c","d","e","f","g","h","i","j","k","l","m","n","o","p","q","r","s","t","APS","RLS","ULS","UPS"],"range":["#00BFB2","#3DBB30","#FFB900","#FD8625","#2675D2","#00BFB2","#3DBB30","#FFB900","#FD8625","#2675D2","#FFB900","#FD8625","#2675D2","#FD8625","#0B3E82","#2675D2","#FF4C63","#00BFB2","#3DBB30","#FFB900","#FFB900","#3DBB30","#2675D2","#FD8625"]},"legend":null}}},{"mark":{"type":"text","align":"left","baseline":"middle","fontSize":32,"font":"Liberation Serif","color":"black"},"encoding":{"x":{"value":1009},"text":{"field":"label"}}}]},
{"data":{"name":"items"},"transform":[{"filter":"datum.year == 2020 && datum.group == 'UPS'"}],"encoding":{"y":{"field":"letter","type":"nominal","axis":null,"scale":{"type":"point","range":[1601,1759],"padding":0}}},"layer":[{"mark":{"type":"square","size":441,"opacity":1},"encoding":{"x":{"value":1592},"color":{"field":"letter","type":"nominal","scale":{"domain":["a","b","c","d","e","f","g","h","i","j","k","l","m","n","o","p","q","r","s","t","APS","RLS","ULS","UPS"],"range":["#00BFB2","#3DBB30","#FFB900","#FD8625","#2675D2","#00BFB2","#3DBB30","#FFB900","#FD8625","#2675D2","#FFB900","#FD8625","#2675D2","#FD8625","#0B3E82","#2675D2","#FF4C63","#00BFB2","#3DBB30","#FFB900","#FFB900","#3DBB30","#2675D2","#FD8625"]},"legend":null}}},{"mark":{"type":"text","align":"left","baseline":"middle","fontSize":32,"font":"Liberation Serif","color":"black"},"encoding":{"x":{"value":1613},"text":{"field":"label"}}}]},
{"data":{"name":"items"},"transform":[{"filter":"datum.year == 2020 && datum.group == 'APS'"}],"encoding":{"y":{"field":"letter","type":"nominal","axis":null,"scale":{"type":"point","range":[1811,1904],"padding":0}}},"layer":[{"mark":{"type":"square","size":441,"opacity":1},"encoding":{"x":{"value":97.5},"color":{"field":"letter","type":"nominal","scale":{"domain":["a","b","c","d","e","f","g","h","i","j","k","l","m","n","o","p","q","r","s","t","APS","RLS","ULS","UPS"],"range":["#00BFB2","#3DBB30","#FFB900","#FD8625","#2675D2","#00BFB2","#3DBB30","#FFB900","#FD8625","#2675D2","#FFB900","#FD8625","#2675D2","#FD8625","#0B3E82","#2675D2","#FF4C63","#00BFB2","#3DBB30","#FFB900","#FFB900","#3DBB30","#2675D2","#FD8625"]},"legend":null}}},{"mark":{"type":"text","align":"left","baseline":"middle","fontSize":32,"font":"Liberation Serif","color":"black"},"encoding":{"x":{"value":119},"text":{"field":"label"}}}]},
{"data":{"name":"items"},"transform":[{"filter":"datum.year == 2020 && datum.group == 'RLS'"}],"encoding":{"y":{"field":"letter","type":"nominal","axis":null,"scale":{"type":"point","range":[1383,1600],"padding":0}}},"layer":[{"mark":{"type":"square","size":441,"opacity":1},"encoding":{"x":{"value":85},"color":{"field":"letter","type":"nominal","scale":{"domain":["a","b","c","d","e","f","g","h","i","j","k","l","m","n","o","p","q","r","s","t","APS","RLS","ULS","UPS"],"range":["#00BFB2","#3DBB30","#FFB900","#FD8625","#2675D2","#00BFB2","#3DBB30","#FFB900","#FD8625","#2675D2","#FFB900","#FD8625","#2675D2","#FD8625","#0B3E82","#2675D2","#FF4C63","#00BFB2","#3DBB30","#FFB900","#FFB900","#3DBB30","#2675D2","#FD8625"]},"legend":null}}},{"mark":{"type":"text","align":"left","baseline":"middle","fontSize":32,"font":"Liberation Serif","color":"black"},"encoding":{"x":{"value":106},"text":{"field":"label"}}}]},
{"data":{"name":"descriptions"},"mark":{"type":"text","align":"left","baseline":"middle","fontSize":43,"font":"Liberation Serif","color":"black"},"encoding":{"x":{"value":1852},"y":{"field":"letter","type":"nominal","axis":null,"scale":{"type":"point","range":[1076,2057],"padding":0}},"text":{"field":"text"}}}
],
"resolve": {"scale": {"x": "independent", "y": "independent", "theta": "independent"}}
}
